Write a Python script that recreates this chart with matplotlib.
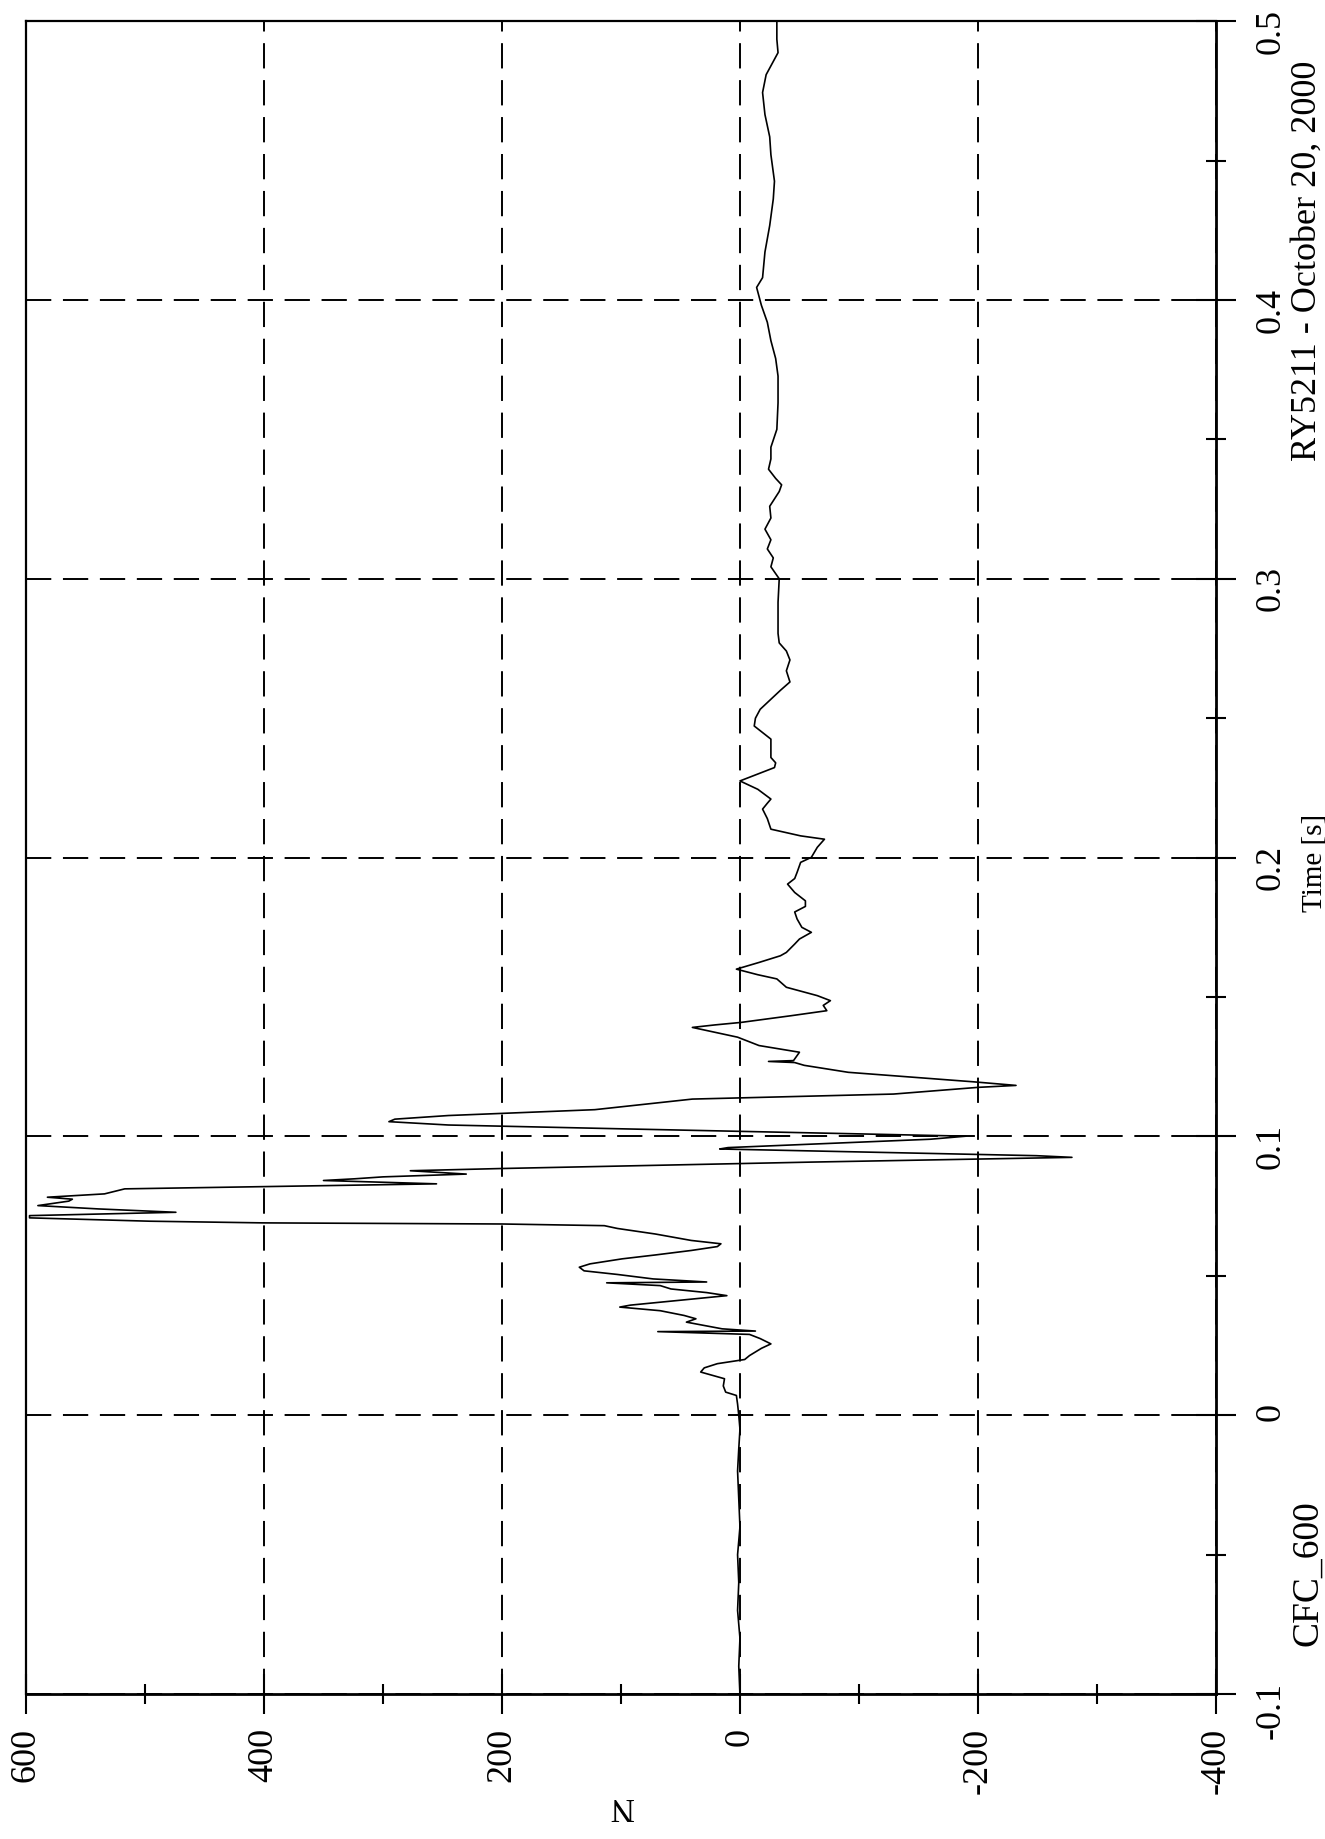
import matplotlib
matplotlib.use('Agg')
import matplotlib.pyplot as plt
from matplotlib.ticker import MultipleLocator

plt.rcParams['font.family'] = ['Liberation Serif', 'DejaVu Serif']
plt.rcParams['axes.unicode_minus'] = False

# ---- data (time in s, force in N) ----
time_s = [
    -0.100, -0.090, -0.080, -0.070, -0.060, -0.050, -0.040, -0.030, -0.020, -0.012,
    -0.005, 0.000, 0.004, 0.0071, 0.0083, 0.0105, 0.0131, 0.0155, 0.0170, 0.0185,
    0.0200, 0.0214, 0.0240, 0.0256, 0.0275, 0.0290, 0.0300, 0.0302, 0.0310, 0.0334,
    0.0346, 0.0358, 0.0375, 0.0388, 0.0395, 0.0420, 0.0429, 0.0440, 0.0453, 0.0465,
    0.0475, 0.0478, 0.0489, 0.0505, 0.0518, 0.0531, 0.0543, 0.0561, 0.0575, 0.0591,
    0.0605, 0.0615, 0.0627, 0.0650, 0.0670, 0.0680, 0.0684, 0.0686, 0.0690, 0.0696,
    0.0708, 0.0716, 0.0728, 0.0740, 0.0752, 0.0768, 0.0775, 0.0782, 0.0794, 0.0812,
    0.0820, 0.0830, 0.0842, 0.0848, 0.0855, 0.0865, 0.0877, 0.0885, 0.0908, 0.0925,
    0.0931, 0.0955, 0.0960, 0.0990, 0.1001, 0.1027, 0.1041, 0.1053, 0.1062, 0.1075,
    0.1096, 0.1134, 0.1152, 0.1176, 0.1183, 0.1196, 0.1230, 0.1255, 0.1265, 0.1269,
    0.1272, 0.1302, 0.1326, 0.1356, 0.1391, 0.1400, 0.1409, 0.1433, 0.1451, 0.1470,
    0.1487, 0.1505, 0.1535, 0.1565, 0.1580, 0.1600, 0.1624, 0.1648, 0.1660, 0.1690,
    0.1708, 0.1732, 0.1750, 0.1780, 0.1805, 0.1825, 0.1845, 0.1875, 0.1905, 0.1925,
    0.1947, 0.1983, 0.2001, 0.2037, 0.2066, 0.2078, 0.2102, 0.2140, 0.2174, 0.2195,
    0.2210, 0.2245, 0.2275, 0.2323, 0.2340, 0.2359, 0.2425, 0.2472, 0.2500, 0.2532,
    0.2568, 0.2600, 0.2630, 0.2670, 0.2709, 0.2741, 0.2770, 0.2804, 0.2852, 0.2916,
    0.3000, 0.3043, 0.3075, 0.3107, 0.3140, 0.3178, 0.3218, 0.3260, 0.3313, 0.3337,
    0.3360, 0.3393, 0.3430, 0.3472, 0.3536, 0.3631, 0.3727, 0.3790, 0.3854, 0.3920,
    0.3981, 0.4045, 0.4080, 0.4172, 0.4267, 0.4362, 0.4426, 0.4521, 0.4585, 0.4665,
    0.4744, 0.4808, 0.4855, 0.4887, 0.4935, 0.5000,
]
force_n = [
    0, 1, 0, 2, 1, 2, 0, 1, 2, 1,
    0, 1, 2, 3, 12, 14, 13, 33, 30, 19,
    -4, -8, -18, -26, -17, -8, 69, -13, 15, 45,
    37, 47, 67, 101, 92, 32, 11, 28, 58, 67,
    112, 28, 73, 103, 131, 135, 126, 99, 71, 41,
    19, 16, 41, 71, 103, 114, 174, 200, 401, 496,
    597, 597, 474, 539, 590, 564, 561, 582, 534, 517,
    401, 255, 350, 324, 300, 230, 277, 200, -60, -279,
    -249, 17, 10, -160, -190, 96, 245, 295, 290, 245,
    122, 40, -129, -200, -232, -196, -91, -54, -46, -24,
    -45, -50, -16, 2, 40, 21, -1, -43, -73, -70,
    -76, -65, -39, -31, -15, 3, -16, -34, -39, -46,
    -50, -60, -52, -48, -46, -55, -55, -46, -40, -46,
    -48, -51, -60, -65, -71, -51, -26, -23, -19, -23,
    -26, -15, 0, -29, -30, -26, -26, -12, -13, -17,
    -26, -34, -42, -39, -42, -39, -33, -32, -32, -32,
    -33, -26, -28, -23, -26, -21, -26, -25, -33, -35,
    -30, -24, -26, -26, -31, -32, -32, -30, -26, -23,
    -18, -14, -19, -21, -25, -28, -29, -26, -25, -21,
    -19, -22, -28, -32, -31, -31,
]

n_ticks = [600, 400, 200, 0, -200, -400]
n_labels = ['600', '400', '200', '0', '-200', '-400']
t_ticks = [-0.1, 0.0, 0.1, 0.2, 0.3, 0.4, 0.5]
t_labels = ['-0.1', '0', '0.1', '0.2', '0.3', '0.4', '0.5']

# page is printed sideways: force runs across, time runs up the right edge
fig = plt.figure(figsize=(13.25, 18.39), dpi=100)
ax = fig.add_axes([0.0196, 0.0788, 0.8981, 0.9097])

ax.plot(force_n, time_s, color='black', lw=1.2)

ax.set_xlim(600, -400)
ax.set_ylim(-0.1, 0.5)

ax.set_xticks(n_ticks, n_labels)
ax.xaxis.set_minor_locator(MultipleLocator(100))
ax.set_yticks(t_ticks, t_labels)
ax.yaxis.set_minor_locator(MultipleLocator(0.05))
ax.yaxis.tick_right()

ax.grid(which='major', color='black', lw=1.4, linestyle=(0, (13, 6)))

for side in ['left', 'top']:
    ax.spines[side].set_linewidth(1.6)
for side in ['right', 'bottom']:
    ax.spines[side].set_linewidth(2.0)

ax.tick_params(which='major', direction='inout', length=29, width=1.5,
               labelsize=26, color='black')
ax.tick_params(which='minor', direction='inout', length=15, width=1.5)
ax.tick_params(axis='x', labelrotation=90, pad=10)
ax.tick_params(axis='y', labelrotation=90, pad=13)

ax.set_xlabel('N', fontsize=24, rotation=180)
ax.xaxis.set_label_coords(0.5, -0.058)
ax.set_ylabel('Time [s]', fontsize=21, rotation=90, va='center')
ax.yaxis.set_label_position('right')
ax.yaxis.set_label_coords(1.072, 0.497)

ytrans = ax.get_yaxis_transform()
ax.text(1.077, 0.414, 'RY5211 - October 20, 2000', transform=ytrans,
        rotation=90, ha='center', va='center', fontsize=26, clip_on=False)
ax.text(1.077, -0.0565, 'CFC_600', transform=ytrans,
        rotation=90, ha='center', va='center', fontsize=27, clip_on=False)

fig.savefig('out.png', dpi=100)
